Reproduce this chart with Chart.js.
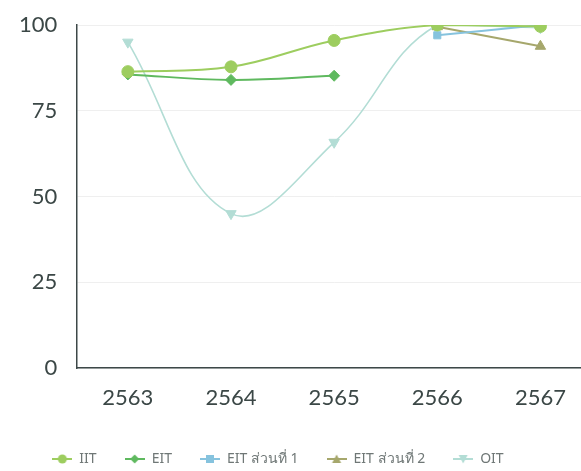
<!DOCTYPE html>
<html>
<head>
<meta charset="utf-8">
<script src="https://cdn.jsdelivr.net/npm/chart.js@4.4.1/dist/chart.umd.min.js"></script>
<style>
    html, body { margin: 0; padding: 0; background: #fff; overflow: hidden; }
    .grafico-contenedor { width: 600px; height: 471px; }
</style>
</head>
<body>
<div class="grafico-contenedor">
    <canvas id="grafico" width="600" height="471"></canvas>
</div>
<script>
    // ปีงบประมาณ
    const anios = ['2563', '2564', '2565', '2566', '2567'];

    // คะแนนแต่ละตัวชี้วัด
    const iit = [86.4, 87.8, 95.5, 100, 99.6];
    const eit = [85.6, 84.0, 85.2, null, null];
    const eitParte1 = [null, null, null, 97.0, 100];
    const eitParte2 = [null, null, null, 99.5, 93.8];
    const oit = [95.0, 45.0, 65.8, 100, 99.2];

    const yTicks = [0, 25, 50, 75, 100];

    const colores = {
        iit: '#9dcd5f',
        eit: '#5fb95f',
        eitParte1: '#86c3de',
        eitParte2: '#a6a76c',
        oit: '#b3ddd5',
    };

    // icono de leyenda: línea con marcador al centro
    const crearIcono = (color, estilo) => {
        const c = document.createElement('canvas');
        c.width = 20;
        c.height = 12;
        const ctx = c.getContext('2d');
        ctx.strokeStyle = color;
        ctx.fillStyle = color;
        ctx.lineWidth = 2;
        ctx.beginPath();
        ctx.moveTo(0, 6);
        ctx.lineTo(20, 6);
        ctx.stroke();
        ctx.beginPath();
        if (estilo === 'circle') {
            ctx.arc(10, 6, 4.5, 0, Math.PI * 2);
        } else if (estilo === 'rectRot') {
            ctx.moveTo(10, 1.5); ctx.lineTo(14.5, 6); ctx.lineTo(10, 10.5); ctx.lineTo(5.5, 6);
        } else if (estilo === 'rect') {
            ctx.rect(6, 2, 8, 8);
        } else if (estilo === 'triangle') {
            ctx.moveTo(10, 1.5); ctx.lineTo(14.5, 10); ctx.lineTo(5.5, 10);
        } else {
            ctx.moveTo(5.5, 2); ctx.lineTo(14.5, 2); ctx.lineTo(10, 10.5);
        }
        ctx.closePath();
        ctx.fill();
        return c;
    };

    const series = [
        { label: 'IIT', data: iit, color: colores.iit, estilo: 'circle', radio: 6, rot: 0, ancho: 2 },
        { label: 'EIT', data: eit, color: colores.eit, estilo: 'rectRot', radio: 5.5, rot: 0, ancho: 2 },
        { label: 'EIT ส่วนที่ 1', data: eitParte1, color: colores.eitParte1, estilo: 'rect', radio: 5, rot: 0, ancho: 2 },
        { label: 'EIT ส่วนที่ 2', data: eitParte2, color: colores.eitParte2, estilo: 'triangle', radio: 6, rot: 0, ancho: 2 },
        { label: 'OIT', data: oit, color: colores.oit, estilo: 'triangle', radio: 6, rot: 180, ancho: 1.6 },
    ];

    const datasets = series.map((s) => ({
        label: s.label,
        data: s.data,
        borderColor: s.color,
        backgroundColor: s.color,
        borderWidth: s.ancho,
        pointStyle: s.estilo,
        pointRotation: s.rot,
        pointRadius: s.radio,
        pointBorderWidth: 1,
        tension: 0.4,
        spanGaps: false,
        icono: crearIcono(s.color, s.rot === 180 ? 'triangleDown' : s.estilo),
    }));

    // mover la leyenda (el gráfico original está recortado a la derecha)
    const ajusteLeyenda = {
        id: 'ajusteLeyenda',
        afterLayout(chart) {
            chart.legend.right -= 36;
            chart.legend.top += 5;
            chart.legend.bottom += 5;
        },
    };

    const colorTexto = '#3b4746';

    new Chart(document.getElementById('grafico').getContext('2d'), {
        type: 'line',
        data: { labels: anios, datasets },
        plugins: [ajusteLeyenda],
        options: {
            responsive: false,
            animation: false,
            layout: { padding: { top: 25, left: 0, right: 8, bottom: 0 } },
            scales: {
                x: {
                    offset: true,
                    grid: { display: false },
                    border: { color: '#3d4848', width: 1.5 },
                    ticks: {
                        color: colorTexto,
                        padding: 9,
                        font: { family: 'Lato', size: 22 },
                    },
                    afterFit: (scale) => { scale.height = 51; },
                },
                y: {
                    min: 0,
                    max: 100,
                    afterBuildTicks: (scale) => { scale.ticks = yTicks.map((v) => ({ value: v })); },
                    afterFit: (scale) => { scale.paddingTop = 0; },
                    grid: { color: '#efefef', drawTicks: false },
                    border: { color: '#3d4848', width: 1.5 },
                    ticks: {
                        color: colorTexto,
                        padding: 19,
                        font: { family: 'Lato', size: 22 },
                    },
                },
            },
            plugins: {
                legend: {
                    position: 'bottom',
                    labels: {
                        color: '#6f7776',
                        font: { family: 'Noto Sans', size: 14 },
                        usePointStyle: true,
                        pointStyleWidth: 20,
                        padding: 28,
                        generateLabels: (chart) => chart.data.datasets.map((d, i) => ({
                            text: d.label,
                            fontColor: '#6f7776',
                            pointStyle: d.icono,
                            datasetIndex: i,
                            hidden: false,
                            lineWidth: 0,
                            strokeStyle: d.borderColor,
                            fillStyle: d.backgroundColor,
                        })),
                    },
                },
                tooltip: { enabled: false },
            },
        },
    });
</script>
</body>
</html>
